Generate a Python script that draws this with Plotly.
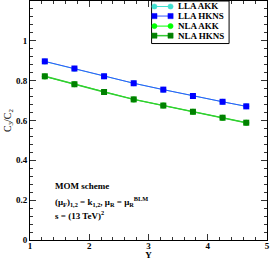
import plotly.graph_objects as go

Y = [1.25, 1.75, 2.25, 2.75, 3.25, 3.75, 4.25, 4.65]
lla_akk = [0.896, 0.860, 0.822, 0.787, 0.755, 0.723, 0.694, 0.671]
lla_hkns = [0.897, 0.861, 0.822, 0.787, 0.755, 0.723, 0.694, 0.671]
nla_akk = [0.821, 0.782, 0.743, 0.706, 0.675, 0.644, 0.614, 0.589]
nla_hkns = [0.822, 0.782, 0.743, 0.706, 0.675, 0.644, 0.614, 0.589]

series_names = ["LLA AKK", "LLA HKNS", "NLA AKK", "NLA HKNS"]
series_values = [lla_akk, lla_hkns, nla_akk, nla_hkns]

x_ticks = [1, 2, 3, 4, 5]
y_ticks = [0, 0.2, 0.4, 0.6, 0.8, 1.0]
y_tick_labels = ["0", "0.2", "0.4", "0.6", "0.8", "1"]

FONT = "Liberation Serif"

styles = [
    dict(line="#40E0D0", marker="#40E0D0", symbol="circle", lw=1),
    dict(line="#3355FF", marker="#0000FF", symbol="square", lw=1),
    dict(line="#00FF00", marker="#00FF00", symbol="circle", lw=1),
    dict(line="#33CC33", marker="#008000", symbol="square", lw=1.5),
]

fig = go.Figure()
for name, vals, st in zip(series_names, series_values, styles):
    fig.add_trace(go.Scatter(x=Y, y=vals, name=name, mode="lines+markers",
                             line=dict(color=st["line"], width=st["lw"]),
                             marker=dict(symbol=st["symbol"], size=6, color=st["marker"]),
                             showlegend=False))

fig.update_xaxes(range=[1, 5], tickmode="array", tickvals=x_ticks,
                 ticktext=[f"<b>{v}</b>" for v in x_ticks],
                 showgrid=False, zeroline=False, showline=True, linecolor="#000000",
                 linewidth=1, mirror="allticks", ticks="inside", ticklen=6,
                 tickcolor="#333333", tickwidth=1, automargin=False,
                 ticklabelstandoff=-3,
                 tickfont=dict(family=FONT, size=9, color="black"),
                 minor=dict(dtick=0.2, tick0=1, ticks="inside", ticklen=3,
                            tickcolor="#333333", tickwidth=1, showgrid=False),
                 title=dict(text="<b>Y</b>", font=dict(family=FONT, size=9, color="black"),
                            standoff=0))
fig.update_yaxes(range=[0, 1.2], tickmode="array", tickvals=y_ticks,
                 ticktext=[f"<b>{t}</b>" for t in y_tick_labels],
                 showgrid=False, zeroline=False, showline=True, linecolor="#000000",
                 linewidth=1, mirror="allticks", ticks="inside", ticklen=6,
                 tickcolor="#333333", tickwidth=1, automargin=False,
                 tickfont=dict(family=FONT, size=9, color="black"),
                 minor=dict(dtick=0.04, tick0=0, ticks="inside", ticklen=3,
                            tickcolor="#333333", tickwidth=1, showgrid=False),
                 title=dict(text="C<sub>3</sub>/C<sub>2</sub>",
                            font=dict(family=FONT, size=10, color="black"), standoff=2))

# Text block
ann_font = dict(family=FONT, size=9, color="black")
fig.add_annotation(x=1.38, y=0.27, xref="x", yref="y", text="<b>MOM scheme</b>",
                   showarrow=False, xanchor="left", font=ann_font)
fig.add_annotation(x=1.38, y=0.195, xref="x", yref="y",
                   text="<b>(μ<sub>F</sub>)<sub>1,2</sub> = k<sub>1,2</sub>, μ<sub>R</sub> = μ<sub>R</sub><sup>BLM</sup></b>",
                   showarrow=False, xanchor="left", font=ann_font)
fig.add_annotation(x=1.38, y=0.125, xref="x", yref="y",
                   text="<b>s = (13 TeV)<sup>2</sup></b>",
                   showarrow=False, xanchor="left", font=ann_font)

# Legend (compact, drawn as box + swatches + text)
fig.add_shape(type="rect", xref="paper", yref="paper", x0=0.513, x1=0.84, y0=0.822, y1=1.0,
              line=dict(color="black", width=1), fillcolor="white", layer="above")
row_y = [0.977, 0.937, 0.895, 0.855]
lx0, lx1, tx = 0.525, 0.593, 0.615
for name, st, ry in zip(series_names, styles, row_y):
    fig.add_shape(type="line", xref="paper", yref="paper", x0=lx0, x1=lx1, y0=ry, y1=ry,
                  line=dict(color=st["line"], width=st["lw"]), layer="above")
    for mx in (lx0, lx1):
        fig.add_shape(type="circle" if st["symbol"] == "circle" else "rect",
                      xref="paper", yref="paper", xsizemode="pixel", ysizemode="pixel",
                      xanchor=mx, yanchor=ry, x0=-2.6, x1=2.6, y0=-2.6, y1=2.6,
                      line=dict(color=st["marker"], width=0.5), fillcolor=st["marker"],
                      layer="above")
    fig.add_annotation(x=tx, y=ry, xref="paper", yref="paper", text=f"<b>{name}</b>",
                       showarrow=False, xanchor="left", yanchor="middle",
                       font=dict(family=FONT, size=9, color="black"))

fig.update_layout(
    width=271, height=260,
    margin=dict(l=30, r=4, t=1, b=20),
    paper_bgcolor="white", plot_bgcolor="white",
    showlegend=False,
)

fig.write_html("out.html", config={"displayModeBar": False},
               post_script="document.body.style.margin='0';document.body.style.overflow='hidden';")
